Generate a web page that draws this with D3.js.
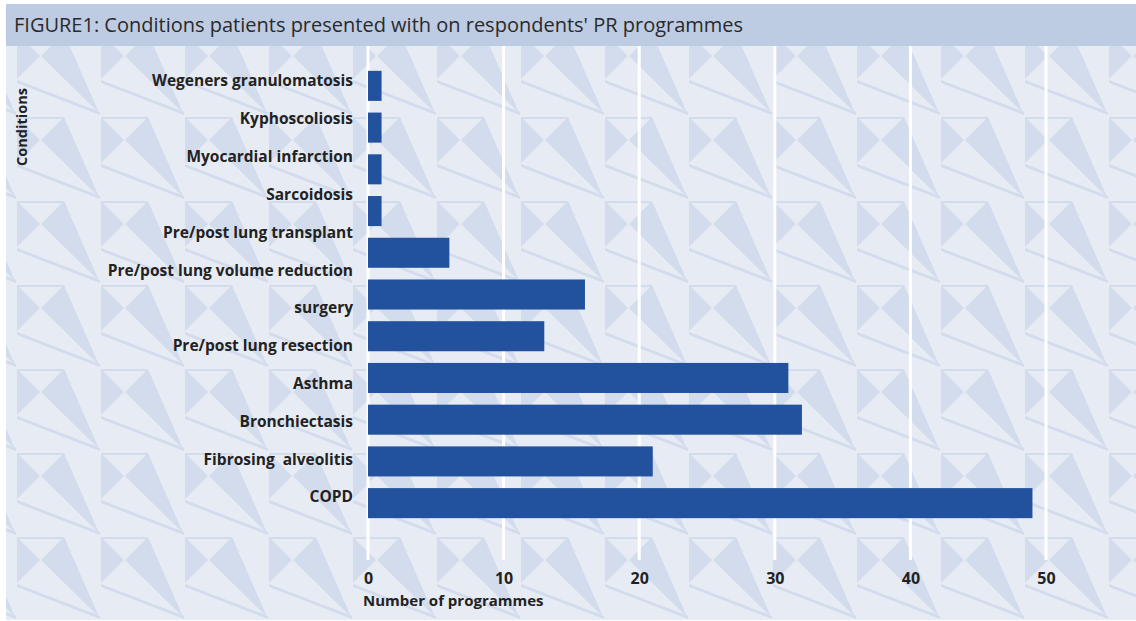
<!DOCTYPE html>
<html><head><meta charset="utf-8">
<script src="https://cdn.jsdelivr.net/npm/d3@7"></script>
<style>html,body{margin:0;padding:0;background:#fff}svg{display:block}</style>
</head><body>
<script>
const categories = ["Wegeners granulomatosis","Kyphoscoliosis","Myocardial infarction","Sarcoidosis","Pre/post lung transplant","Pre/post lung volume reduction\nsurgery","Pre/post lung resection","Asthma","Bronchiectasis","Fibrosing  alveolitis","COPD"];
const values = [1,1,1,1,6,16,13,31,32,21,49];
const xTicks = [0,10,20,30,40,50];
const title = "FIGURE1: Conditions patients presented with on respondents' PR programmes";
const xTitle = "Number of programmes";
const yTitle = "Conditions";

const W = 1136, H = 621;
const FONT = "'Open Sans', 'Noto Sans', sans-serif";
const svg = d3.select("body").append("svg").attr("width", W).attr("height", H);
const defs = svg.append("defs");
const pat = defs.append("pattern").attr("id","bgpat").attr("patternUnits","userSpaceOnUse")
  .attr("x",17).attr("y",33).attr("width",84).attr("height",84);
pat.append("rect").attr("width",84).attr("height",84).attr("fill","#e7ecf4");
const dark = "#d3dced";
pat.append("path").attr("d","M0,0L0,46L23,23Z").attr("fill",dark);
pat.append("path").attr("d","M24,23L47,0L82,80Z").attr("fill",dark);
pat.append("path").attr("d","M0,0L47,0L47,2L0,2Z").attr("fill",dark);
pat.append("path").attr("d","M0,47L83,79L83,82L0,50Z").attr("fill",dark);

// background
svg.append("rect").attr("x",6).attr("y",4).attr("width",W-6).attr("height",H-5).attr("fill","url(#bgpat)");
svg.append("rect").attr("x",6).attr("y",4).attr("width",W-6).attr("height",42).attr("fill","#bdcce3");
svg.append("text").attr("x",14).attr("y",32).attr("font-family",FONT).attr("font-size",20)
  .attr("fill","#2a2a2a").text(title);

const x = d3.scaleLinear().domain([0,50]).range([368,1046]);
const y = d3.scaleBand().domain(categories).range([65,524]).paddingInner(0.28).paddingOuter(0.14);

// gridlines
svg.append("g").selectAll("line").data(xTicks).join("line")
  .attr("x1",d=>x(d)).attr("x2",d=>x(d)).attr("y1",46).attr("y2",560)
  .attr("stroke","#fff").attr("stroke-width",3);

// bars
svg.append("g").selectAll("rect").data(categories).join("rect")
  .attr("x",x(0)).attr("y",d=>y(d)).attr("height",y.bandwidth())
  .attr("width",(d,i)=>x(values[i])-x(0)).attr("fill","#22519d");

// category labels (original places label lines on their own even grid)
const lines = categories.flatMap(c=>c.split("\n"));
const ly = d3.scalePoint().domain(d3.range(lines.length)).range([81,497]);
svg.append("g").selectAll("text").data(lines).join("text")
  .attr("x",353).attr("y",(d,i)=>ly(i)).attr("dy","0.35em").attr("text-anchor","end")
  .attr("font-family",FONT).attr("font-weight","bold").attr("font-size",15.5).attr("fill","#222")
  .attr("xml:space","preserve").style("white-space","pre").text(d=>d);

// x axis
const xAxis = d3.axisBottom(x).tickValues(xTicks).tickSize(0).tickPadding(0);
const gx = svg.append("g").attr("transform","translate(0,578)").call(xAxis);
gx.select(".domain").remove();
gx.selectAll("text").attr("dy","0.35em").attr("font-family",FONT).attr("font-weight","bold")
  .attr("font-size",16).attr("fill","#222");

svg.append("text").attr("x",363).attr("y",601).attr("dy","0.35em").attr("font-family",FONT)
  .attr("font-weight","bold").attr("font-size",15).attr("fill","#222").text(xTitle);
svg.append("text").attr("transform","translate(22,127) rotate(-90)").attr("text-anchor","middle")
  .attr("dy","0.35em").attr("font-family",FONT).attr("font-weight","bold").attr("font-size",14.5).attr("fill","#222").text(yTitle);
</script>
</body></html>
